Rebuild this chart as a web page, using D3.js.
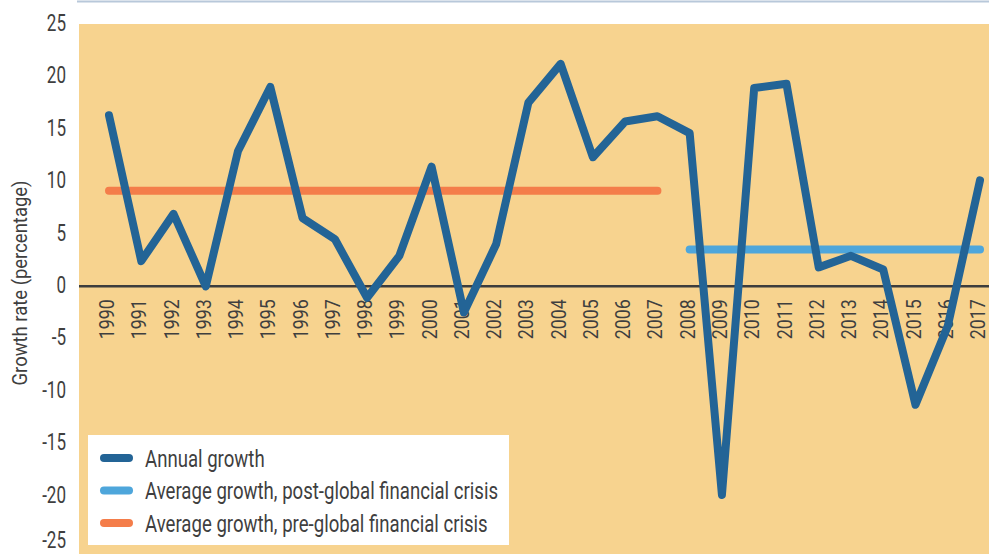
<!DOCTYPE html>
<html><head><meta charset="utf-8">
<script src="https://cdn.jsdelivr.net/npm/d3@7"></script>
<style>
html,body{margin:0;padding:0;background:#fff;}
svg{display:block;font-family:Roboto,"Open Sans",sans-serif;}
</style></head>
<body><svg id="c" width="989" height="554"></svg>
<script>
const years = [1990,1991,1992,1993,1994,1995,1996,1997,1998,1999,2000,2001,2002,2003,2004,2005,2006,2007,2008,2009,2010,2011,2012,2013,2014,2015,2016,2017];
const annualGrowth = [16.3,2.4,6.9,0,12.9,19.0,6.5,4.5,-1.1,2.9,11.4,-2.5,4.0,17.5,21.2,12.3,15.7,16.2,14.6,-19.9,18.9,19.3,1.8,2.9,1.6,-11.3,-3.8,10.1];
const preCrisisYears = [1990,2007];
const preCrisisAvg = 9.1;
const postCrisisYears = [2008,2017];
const postCrisisAvg = 3.5;
const yTicks = [25,20,15,10,5,0,-5,-10,-15,-20,-25];
const legendLabels = ["Annual growth","Average growth, post-global financial crisis","Average growth, pre-global financial crisis"];

const C = {bg:"#F7D38F", dark:"#236496", light:"#4EA6DB", orange:"#F47D4A", text:"#3f3f3f"};
const svg = d3.select("#c");

const x = d3.scaleLinear().domain([1990,2017]).range([109,980]);
const y = d3.scaleLinear().domain([-25,25]).range([548.5,24]);

function condense(sel, k){
  sel.each(function(){
    const w = this.getComputedTextLength();
    d3.select(this).attr("textLength", w*k).attr("lengthAdjust","spacingAndGlyphs");
  });
}

// top rule
svg.append("line").attr("x1",77).attr("x2",989).attr("y1",1.5).attr("y2",1.5)
  .attr("stroke","#b8c8da").attr("stroke-width",2);
// plot background
svg.append("rect").attr("x",79).attr("y",y(25)).attr("width",989-79).attr("height",554-y(25)).attr("fill",C.bg);

// y axis labels
const yAxis = d3.axisLeft(y).tickValues(yTicks).tickSize(0).tickPadding(0).tickFormat(d=>String(d));
const gy = svg.append("g").attr("transform","translate(66,-2)").call(yAxis);
gy.select(".domain").remove();
gy.selectAll("text").attr("font-size",23).attr("fill",C.text).attr("font-family","Roboto, sans-serif")
  .attr("dy", d => d === -25 ? "0.03em" : "0.36em");
condense(gy.selectAll("text"), 0.74);

// y title
const yt = svg.append("text").attr("transform","translate(27,283) rotate(-90)").attr("text-anchor","middle")
  .attr("font-size",21).attr("fill",C.text).text("Growth rate (percentage)");
condense(yt, 205/yt.node().getComputedTextLength());

// zero line
svg.append("line").attr("x1",79).attr("x2",989).attr("y1",y(0)).attr("y2",y(0))
  .attr("stroke","#3d3d3d").attr("stroke-width",2.5);

// x labels
const xAxis = d3.axisBottom(x).tickValues(years).tickSize(0).tickFormat(d=>String(d));
const gx = svg.append("g").attr("transform",`translate(0,${y(0)})`).call(xAxis);
gx.select(".domain").remove();
gx.selectAll("text").attr("font-size",21).attr("fill",C.text).attr("font-family","Roboto, sans-serif")
  .attr("text-anchor","end").attr("transform","rotate(-90)").attr("x",-13).attr("y",-3).attr("dy","0.36em");
{
  const w0 = gx.select("text").node().getComputedTextLength();
  condense(gx.selectAll("text"), 40/w0);
}

// average lines
svg.append("line").attr("x1",x(preCrisisYears[0])).attr("x2",x(preCrisisYears[1]))
  .attr("y1",y(preCrisisAvg)).attr("y2",y(preCrisisAvg))
  .attr("stroke",C.orange).attr("stroke-width",8).attr("stroke-linecap","round");
svg.append("line").attr("x1",x(postCrisisYears[0])).attr("x2",x(postCrisisYears[1]))
  .attr("y1",y(postCrisisAvg)).attr("y2",y(postCrisisAvg))
  .attr("stroke",C.light).attr("stroke-width",8).attr("stroke-linecap","round");

// annual line
const line = d3.line().x((d,i)=>x(years[i])).y(d=>y(d));
svg.append("path").datum(annualGrowth).attr("d",line).attr("fill","none")
  .attr("stroke",C.dark).attr("stroke-width",8).attr("stroke-linecap","round").attr("stroke-linejoin","round");

// legend
const lg = svg.append("g");
lg.append("rect").attr("x",88).attr("y",435).attr("width",421).attr("height",110).attr("fill","#fff");
const lcolors = [C.dark,C.light,C.orange];
const ltexts = [];
legendLabels.forEach((t,i)=>{
  const yy = 458 + i*32.5;
  lg.append("line").attr("x1",104).attr("x2",129).attr("y1",yy).attr("y2",yy)
    .attr("stroke",lcolors[i]).attr("stroke-width",8).attr("stroke-linecap","round");
  ltexts.push(lg.append("text").attr("x",145).attr("y",yy).attr("dy","0.36em").attr("font-size",24)
    .attr("fill",C.text).text(t).node());
});
{
  const wLong = ltexts[1].getComputedTextLength();
  condense(d3.selectAll(ltexts), 353/wLong);
}
</script></body></html>
